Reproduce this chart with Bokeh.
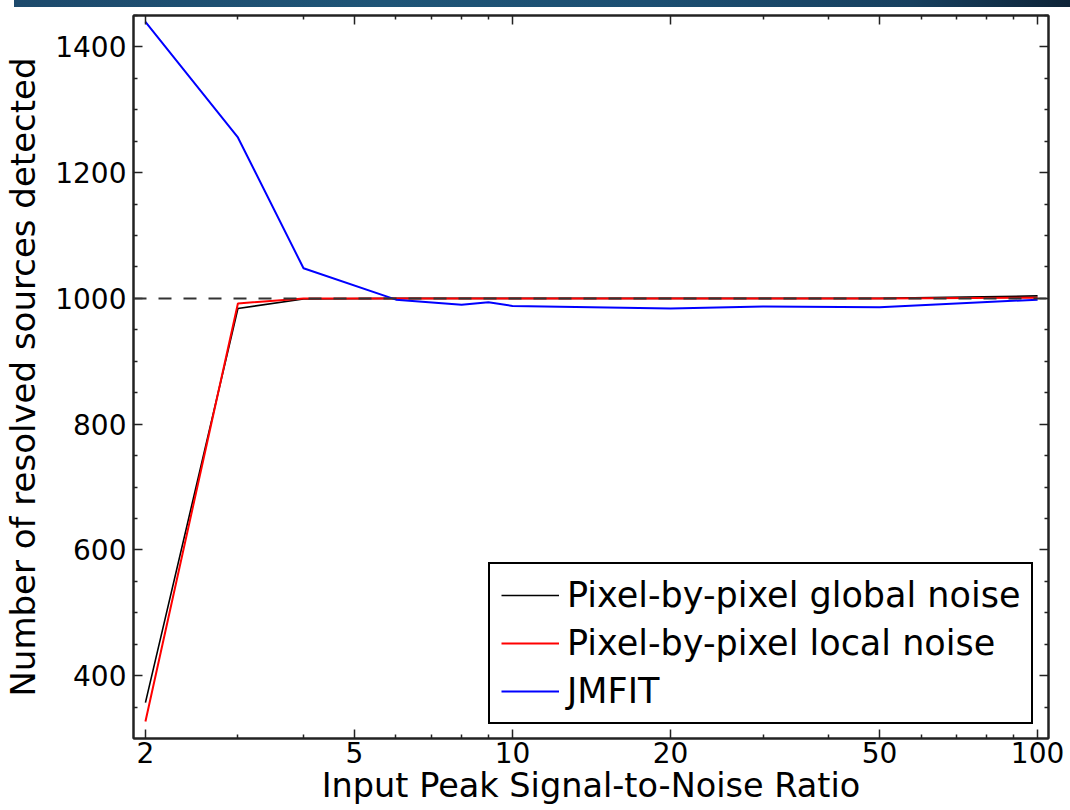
from bokeh.plotting import figure
from bokeh.models import (FixedTicker, LogAxis, LinearAxis, Legend, LegendItem, Div,
                          Span, PrintfTickFormatter, CustomJSTickFormatter, Range1d)
from bokeh.layouts import column
from bokeh.embed import file_html
from bokeh.resources import INLINE

# ---- data ----
snr = [2, 3, 4, 6, 8, 9, 10, 20, 30, 50, 100]
global_noise = [357, 984, 999, 1000, 1000, 1000, 1000, 1000, 1000, 1000, 1004]
local_noise = [327, 992, 1000, 1000, 1000, 1000, 1000, 1000, 1000, 1000, 1001]
jmfit = [1440, 1256, 1048, 998, 990, 994, 988, 984, 987, 986, 998]
true_count = 1000

x_major = [2, 5, 10, 20, 50, 100]
x_minor = [3, 4, 6, 7, 8, 9, 30, 40, 60, 70, 80, 90]
y_major = [400, 600, 800, 1000, 1200, 1400]
y_minor = [350, 450, 500, 550, 650, 700, 750, 850, 900, 950, 1050, 1100, 1150,
           1250, 1300, 1350, 1450]

FONT = "DejaVu Sans"

p = figure(width=1070, height=803, x_axis_type="log",
           x_range=Range1d(1.898, 104.9), y_range=Range1d(300, 1450),
           output_backend="svg", toolbar_location=None,
           min_border_left=129, min_border_right=22, min_border_top=8,
           min_border_bottom=72)
p.grid.visible = False
p.outline_line_color = "#222222"
p.outline_line_width = 2
p.background_fill_color = "white"
p.border_fill_color = "white"

def style_axis(ax, labels=True):
    ax.axis_line_color = "#222222"
    ax.axis_line_width = 2
    ax.major_tick_in = 9
    ax.major_tick_out = 0
    ax.minor_tick_in = 4
    ax.minor_tick_out = 0
    ax.major_tick_line_color = "#222222"
    ax.minor_tick_line_color = "#222222"
    ax.major_tick_line_width = 1.5
    ax.minor_tick_line_width = 1.5
    ax.major_label_text_font = FONT
    ax.major_label_text_font_size = "28px"
    ax.major_label_text_color = "black"
    if not labels:
        ax.major_label_text_font_size = "0px"
        ax.major_label_standoff = 0
        ax.formatter = CustomJSTickFormatter(code="return ''")

xt = FixedTicker(ticks=x_major, minor_ticks=x_minor)
yt = FixedTicker(ticks=y_major, minor_ticks=y_minor)

p.xaxis.ticker = xt
p.xaxis.formatter = PrintfTickFormatter(format="%d")
p.yaxis.ticker = yt
style_axis(p.xaxis[0])
style_axis(p.yaxis[0])
p.xaxis.major_label_standoff = 3
p.yaxis.major_label_standoff = 7

p.xaxis.axis_label = "Input Peak Signal-to-Noise Ratio"
p.yaxis.axis_label = "Number of resolved sources detected"
p.xaxis.axis_label_text_font_size = "33.5px"
p.yaxis.axis_label_text_font_size = "34px"
for ax in (p.xaxis[0], p.yaxis[0]):
    ax.axis_label_text_font = FONT
    ax.axis_label_text_font_style = "normal"
    ax.axis_label_text_color = "black"
p.xaxis.axis_label_standoff = 0
p.yaxis.axis_label_standoff = 9

top_ax = LogAxis(ticker=xt)
style_axis(top_ax, labels=False)
p.add_layout(top_ax, "above")
right_ax = LinearAxis(ticker=yt)
style_axis(right_ax, labels=False)
p.add_layout(right_ax, "right")

ref = Span(location=true_count, dimension="width", line_color="#333333",
           line_width=2, line_dash="13 12")
p.add_layout(ref)

r_g = p.line(snr, global_noise, line_color="black", line_width=1.6)
r_l = p.line(snr, local_noise, line_color="#ff0000", line_width=2)
r_j = p.line(snr, jmfit, line_color="#0000ff", line_width=2)

legend = Legend(items=[
    LegendItem(label="Pixel-by-pixel global noise", renderers=[r_g]),
    LegendItem(label="Pixel-by-pixel local noise", renderers=[r_l]),
    LegendItem(label="JMFIT", renderers=[r_j]),
], location=(355, 14))
legend.label_text_font = FONT
legend.label_text_font_size = "35px"
legend.label_text_color = "black"
legend.glyph_width = 58
legend.glyph_height = 40
legend.label_height = 40
legend.label_standoff = 8
legend.spacing = 8
legend.padding = 11
legend.margin = 0
legend.border_line_color = "black"
legend.border_line_alpha = 1
legend.border_line_width = 2
legend.background_fill_color = "white"
legend.background_fill_alpha = 1
p.add_layout(legend, "center")

banner = Div(text="", width=1056, height=7, margin=(0, 0, 0, 14),
             styles={"background": "linear-gradient(90deg, #1d4a6c 0%, #1f5577 35%, #1c4f72 60%, #17405f 85%, #0e2438 100%)"})

layout = column(banner, p, spacing=0)
open("out.html", "w").write(file_html(layout, INLINE))
